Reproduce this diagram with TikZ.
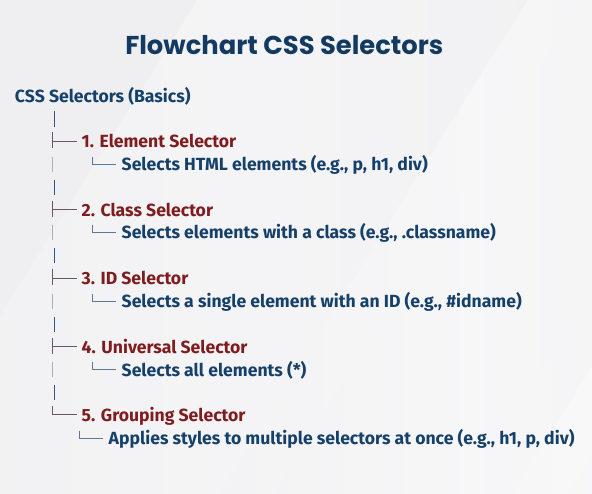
\documentclass[tikz,border=0pt]{standalone}
\usepackage{fontspec}
\setmainfont{Fira Sans}
\newfontfamily\titlefont{Poppins}
\usetikzlibrary{calc}
\definecolor{bgbase}{HTML}{EFEFF1}
\definecolor{bgband}{HTML}{FAFAFB}
\definecolor{titlec}{HTML}{133A60}
\definecolor{navyc}{HTML}{15406A}
\definecolor{redc}{HTML}{7E1C1F}
\definecolor{trunkc}{HTML}{2C5A85}
\definecolor{teec}{HTML}{6E5565}
\definecolor{subvc}{HTML}{A8B0BA}
\definecolor{sublc}{HTML}{5D7896}
\tikzset{
  txt/.style={inner sep=0pt, outer sep=0pt, anchor=base west, font=\fontsize{17.6}{21}\selectfont\bfseries},
  roottxt/.style={txt, text=navyc},
  headtxt/.style={txt, text=redc},
  subtxt/.style={txt, text=navyc},
  titletxt/.style={inner sep=0pt, anchor=base, text=titlec, font=\titlefont\fontsize{25.8}{30}\selectfont\bfseries},
  trunk/.style={draw=trunkc, line width=1.1pt},
  teeline/.style={draw=teec, line width=1pt},
  subv/.style={draw=subvc, line width=1pt},
  subl/.style={draw=sublc, line width=1pt},
  band/.style={left color=bgbase, right color=bgbase, middle color=#1},
}
\begin{document}
\begin{tikzpicture}[x=1pt,y=-1pt]
\useasboundingbox (0,0) rectangle (592,494);
% background
\fill[bgbase] (0,0) rectangle (592,494);
\begin{scope}
\clip (0,0) rectangle (592,494);
\begin{scope}[shift={(470,330)}, rotate=-32]
\shade[band=bgband!70!bgbase] (-170,-700) rectangle (170,700);
\shade[band=bgband!70!bgbase, opacity=0.6] (-80,-700) rectangle (80,700);
\end{scope}
\begin{scope}[shift={(250,180)}, rotate=-32]
\shade[band=bgband!50!bgbase] (-140,-700) rectangle (140,700);
\end{scope}
\begin{scope}[shift={(610,470)}, rotate=-32]
\shade[band=bgband, opacity=0.8] (-70,-700) rectangle (70,700);
\end{scope}
\end{scope}
% title
\node[titletxt] (title) at (284.3,54.3) {Flowchart CSS Selectors};
% texts
\node[roottxt] (root) at (15,103) {CSS Selectors (Basics)};
\node[headtxt] (h1) at (81.7,148) {1. Element Selector};
\node[subtxt] (s1) at (121.7,170.8) {Selects HTML elements (e.g., p, h1, div)};
\node[headtxt] (h2) at (81.7,216.3) {2. Class Selector};
\node[subtxt] (s2) at (121.7,239) {Selects elements with a class (e.g., .classname)};
\node[headtxt] (h3) at (81.7,285) {3. ID Selector};
\node[subtxt] (s3) at (121.7,307.8) {Selects a single element with an ID (e.g., \#idname)};
\node[headtxt] (h4) at (81.7,353.2) {4. Universal Selector};
\node[subtxt] (s4) at (121.7,376.3) {Selects all elements (*)};
\node[headtxt] (h5) at (81.7,421.5) {5. Grouping Selector};
\node[subtxt] (s5) at (108.7,444.5) {Applies styles to multiple selectors at once (e.g., h1, p, div)};
% trunk pieces in the blank rows
\draw[trunk] ($(root.base west)+(39.3,7.7)$) -- ++(0,16);
\foreach \s in {s1,s2,s3,s4} {
  \draw[trunk] ($(\s.base west)+(-67.4,8.9)$) -- ++(0,15);
}
% header tees
\foreach \h in {h1,h2,h3,h4} {
  \draw[teeline] ($(\h.base west)+(-29,-15.5)$) -- ++(0,16)
                 ($(\h.base west)+(-29,-6.7)$) -- ++(24,0);
}
\draw[teeline] ($(h5.base west)+(-29,-15.5)$) |- ($(h5.base west)+(-5,-6.7)$);
% light trunk on the sub rows
\foreach \s in {s1,s2,s3,s4} {
  \draw[subv] ($(\s.base west)+(-69,-14)$) -- ++(0,15);
}
% sub corners
\foreach \s in {s1,s2,s3,s4,s5} {
  \draw[subl] ($(\s.base west)+(-29,-14)$) |- ($(\s.base west)+(-5.7,-6.5)$);
}
\end{tikzpicture}
\end{document}
